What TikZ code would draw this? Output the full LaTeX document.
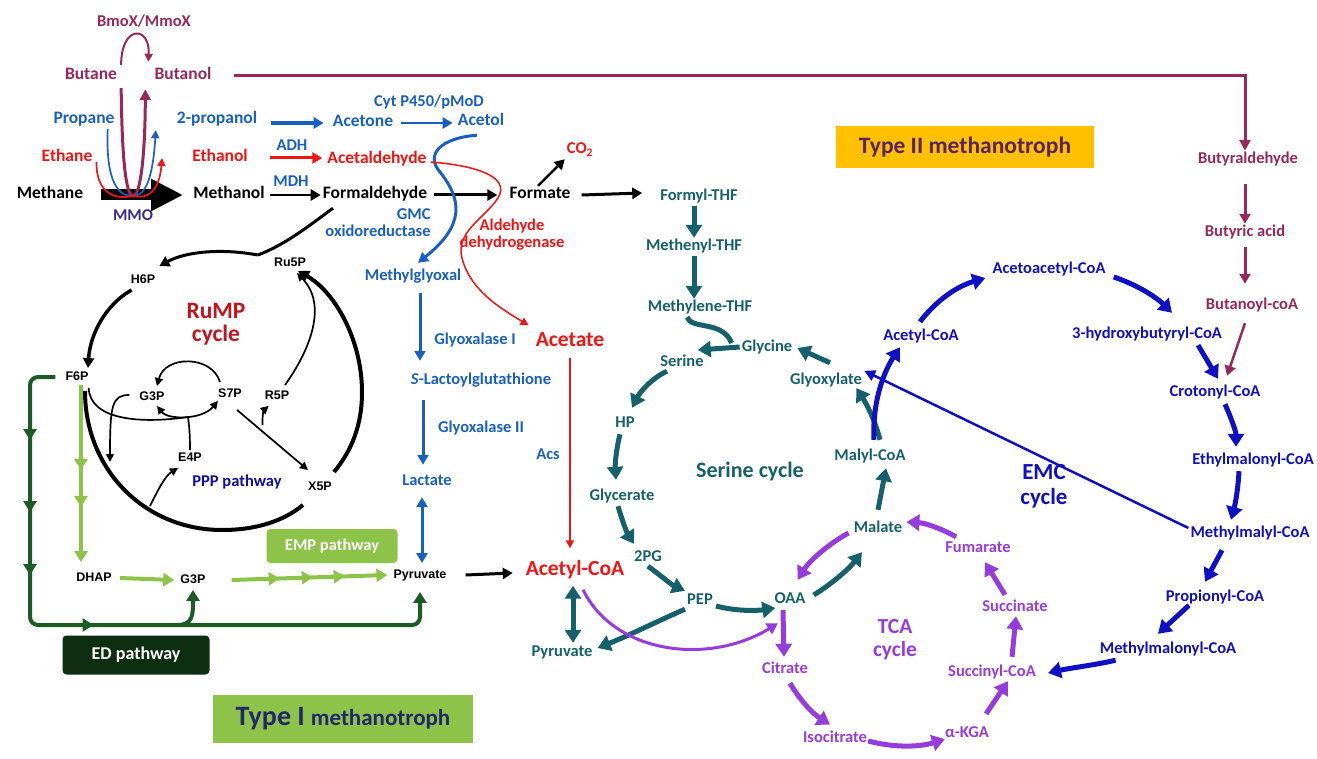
\documentclass[tikz,border=0pt]{standalone}
\usepackage{fontspec}
\setmainfont{Carlito}
\newfontfamily\arialf{Liberation Sans}
\usepackage{tikz}
\usetikzlibrary{arrows.meta,calc,decorations.markings}
\definecolor{bmocol}{RGB}{150,40,90}
\definecolor{cblue}{RGB}{25,95,195}
\definecolor{cred}{RGB}{240,20,20}
\definecolor{rumpred}{RGB}{195,20,30}
\definecolor{mmocol}{RGB}{55,45,140}
\definecolor{emcblue}{RGB}{15,15,195}
\definecolor{sercol}{RGB}{22,96,108}
\definecolor{tcacol}{RGB}{150,60,220}
\definecolor{empgreen}{RGB}{140,195,72}
\definecolor{edgreen}{RGB}{28,90,38}
\definecolor{edbox}{RGB}{14,46,18}
\definecolor{typeorange}{RGB}{255,192,0}
\definecolor{typeonecol}{RGB}{35,40,110}
\definecolor{typetwocol}{RGB}{90,35,100}
\newcommand{\gtip}{\arrow{Triangle[length=11pt,width=13pt]}}

\begin{document}
\begin{tikzpicture}[x=1pt, y=-1pt,
  lbl/.style={font=\fontsize{16.5}{18}\selectfont\bfseries, inner sep=2pt, text height=11pt, text depth=3pt},
  toplbl/.style={lbl, font=\fontsize{17.5}{19}\selectfont\bfseries},
  big/.style={font=\fontsize{21.5}{24}\selectfont\bfseries, inner sep=2pt, text height=15pt, text depth=4pt},
  sml/.style={font=\arialf\fontsize{12.5}{14}\selectfont\bfseries, inner sep=2pt, text height=9.5pt, text depth=2pt},
  box/.style={rounded corners=4pt, inner sep=0pt, align=center},
  fat/.style={line width=5pt, -{Triangle[length=13pt,width=16pt]}},
  mid/.style={line width=3pt, -{Triangle[length=10pt,width=11pt]}},
  thin/.style={line width=1.7pt, -{Triangle[length=8pt,width=8pt]}}]
\useasboundingbox (0,0) rectangle (1317,759);

\node[lbl,text=bmocol] (bmox) at (144,23) {BmoX/MmoX};
\node[toplbl,text=bmocol] (butane) at (91,76) {Butane};
\node[toplbl,text=bmocol] (butanol) at (183,76) {Butanol};
\node[toplbl,text=cblue] (propane) at (84,120) {Propane};
\node[toplbl,text=cblue] (propanol) at (217,120) {2-propanol};
\node[toplbl,text=cred] (ethane) at (67,158) {Ethane};
\node[toplbl,text=cred] (ethanol) at (220,158) {Ethanol};
\node[toplbl] (methane) at (50,195) {Methane};
\node[toplbl] (methanol) at (229,195) {Methanol};
\node[lbl,text=mmocol] (mmo) at (133,217) {MMO};
\node[lbl,text=cblue] (cyt) at (429,103) {Cyt P450/pMoD};
\node[toplbl,text=cblue] (acetone) at (363,123) {Acetone};
\node[toplbl,text=cblue] (acetol) at (481,122) {Acetol};
\node[lbl,text=cblue] (adh) at (292,147) {ADH};
\node[toplbl,text=cred] (acald) at (377,160) {Acetaldehyde};
\node[lbl,text=cblue] (mdh) at (291,183) {MDH};
\node[toplbl] (formald) at (375,195) {Formaldehyde};
\node[toplbl] (formate) at (540,195) {Formate};
\node[lbl,text=cred] (cotwo) at (580,150) {CO\textsubscript{2}};
\node[lbl,text=cblue,align=right,text height=,text depth=] (gmc) at (378,223) {GMC\\[-1pt]oxidoreductase};
\node[lbl,text=cred,align=center,text height=,text depth=] (aldeh) at (512,235) {Aldehyde\\[-1pt]dehydrogenase};
\node[lbl,text=cblue] (mglyox) at (413,277) {Methylglyoxal};
\node[lbl,text=cblue] (glyone) at (475,340) {Glyoxalase I};
\node[lbl,text=cblue] (slac) at (481,380) {\textit{S}-Lactoylglutathione};
\node[lbl,text=cblue] (glytwo) at (481,428) {Glyoxalase II};
\node[lbl,text=cblue] (lactate) at (427,481) {Lactate};
\node[sml] (pyrone) at (420,575) {Pyruvate};
\node[big,text=cred] (acetate) at (570,341) {Acetate};
\node[lbl,text=cblue] (acs) at (548,455) {Acs};
\node[big,text=cred] (acoa) at (575,570) {Acetyl-CoA};
\node[lbl,text=sercol] (pyrtwo) at (562,652) {Pyruvate};

\node[sml] (h6p) at (143,280) {H6P};
\node[sml] (ru5p) at (290,263) {Ru5P};
\node[font=\fontsize{23.5}{25}\selectfont\bfseries,text=rumpred,align=center] (rump) at (216,324) {RuMP\\[-2pt]cycle};
\node[sml] (f6p) at (77,377) {F6P};
\node[sml] (g3pa) at (152,397) {G3P};
\node[sml] (s7p) at (230,394) {S7P};
\node[sml] (r5p) at (277,396) {R5P};
\node[sml] (e4p) at (190,458) {E4P};
\node[lbl,text=emcblue!85!black] (ppp) at (237,482) {PPP pathway};
\node[sml] (x5p) at (320,487) {X5P};
\node[sml] (dhap) at (94,578) {DHAP};
\node[sml] (g3pb) at (193,580) {G3P};
\node[box,fill=empgreen,text=white,minimum width=131pt,minimum height=34pt,font=\fontsize{16.5}{18}\selectfont\bfseries] (emp) at (332,546) {EMP pathway};
\node[box,fill=edbox,text=white,minimum width=147pt,minimum height=39pt,font=\fontsize{18}{20}\selectfont\bfseries] (ed) at (136,655) {ED pathway};
\node[box,rounded corners=0pt,fill=empgreen,text=typeonecol,minimum width=260pt,minimum height=48pt,font=\bfseries] (typeone) at (343,719) {{\fontsize{28}{30}\selectfont Type I}\hspace{6pt}{\fontsize{23}{26}\selectfont methanotroph}};
\node[box,rounded corners=0pt,fill=typeorange,text=typetwocol,minimum width=258pt,minimum height=42pt,font=\fontsize{23.5}{26}\selectfont\bfseries] (typetwo) at (965,147) {Type II methanotroph};

\node[lbl,text=sercol] (formylthf) at (699,197) {Formyl-THF};
\node[lbl,text=sercol] (methenyl) at (694,247) {Methenyl-THF};
\node[lbl,text=sercol] (methylene) at (700,308) {Methylene-THF};
\node[lbl,text=sercol] (glycine) at (767,347) {Glycine};
\node[lbl,text=sercol] (serine) at (682,362) {Serine};
\node[lbl,text=sercol] (hp) at (625,423) {HP};
\node[lbl,text=sercol] (glycerate) at (622,496) {Glycerate};
\node[lbl,text=sercol] (twopg) at (648,557) {2PG};
\node[lbl,text=sercol] (pep) at (700,600) {PEP};
\node[lbl,text=sercol] (oaa) at (790,599) {OAA};
\node[lbl,text=sercol] (malate) at (878,528) {Malate};
\node[lbl,text=sercol] (malylcoa) at (870,456) {Malyl-CoA};
\node[lbl,text=sercol] (glyoxylate) at (826,380) {Glyoxylate};
\node[font=\fontsize{22}{24}\selectfont\bfseries,text=sercol] (sercyc) at (750,472) {Serine cycle};

\node[lbl,text=tcacol] (citrate) at (785,669) {Citrate};
\node[lbl,text=tcacol] (isocit) at (835,738) {Isocitrate};
\node[lbl,text=tcacol] (akga) at (967,733) {α-KGA};
\node[lbl,text=tcacol] (succoa) at (992,672) {Succinyl-CoA};
\node[lbl,text=tcacol] (succinate) at (1015,607) {Succinate};
\node[lbl,text=tcacol] (fumarate) at (978,548) {Fumarate};
\node[font=\fontsize{21.5}{24}\selectfont\bfseries,text=tcacol,align=center] (tcacyc) at (895,640) {TCA\\[-1pt]cycle};

\node[lbl,text=emcblue] (acetylb) at (921,336) {Acetyl-CoA};
\node[lbl,text=emcblue] (acetoac) at (1049,270) {Acetoacetyl-CoA};
\node[lbl,text=emcblue] (hydroxy) at (1147,334) {3-hydroxybutyryl-CoA};
\node[lbl,text=emcblue] (crotonyl) at (1215,392) {Crotonyl-CoA};
\node[lbl,text=emcblue] (ethylmal) at (1253,460) {Ethylmalonyl-CoA};
\node[lbl,text=emcblue] (methylmalyl) at (1250,533) {Methylmalyl-CoA};
\node[lbl,text=emcblue] (propionyl) at (1215,597) {Propionyl-CoA};
\node[lbl,text=emcblue] (methylmalon) at (1168,649) {Methylmalonyl-CoA};
\node[font=\fontsize{23}{25}\selectfont\bfseries,text=emcblue,align=center] (emccyc) at (1044,486) {EMC\\[0pt]cycle};

\node[lbl,text=bmocol] (butyrald) at (1248,160) {Butyraldehyde};
\node[lbl,text=bmocol] (butyric) at (1245,233) {Butyric acid};
\node[lbl,text=bmocol] (butanoyl) at (1252,305) {Butanoyl-coA};

\coordinate (mmoj) at ([shift={(0,-12)}]mmo.north);
\coordinate (tk) at (188,417);
\coordinate (g3pout) at (110,462);
\coordinate (ce) at (150,506);
\coordinate (edc) at (30,625);

\draw[line width=11pt,-{Triangle[length=32pt,width=30pt]}] ([xshift=16pt]methane.east) -- ([xshift=-8pt]methanol.west);
\draw[bmocol, line width=3pt] ([shift={(2,3)}]butane.south east) .. controls (122,160) and (126,196) .. (mmoj);
\draw[bmocol, line width=3pt, -{Triangle[length=11pt,width=11pt]}] (mmoj) .. controls (140,196) and (145,160) .. ([shift={(-7,4)}]butanol.south west);
\draw[cblue, thin] ([xshift=-9pt]propane.south east) .. controls (106,172) and (114,197) .. (mmoj) .. controls (150,197) and (154,160) .. ([shift={(-19,1)}]propanol.south west);
\draw[cred, thin] ([shift={(2,4)}]ethane.east) .. controls (96,190) and (112,201) .. (mmoj) .. controls (154,201) and (160,182) .. ([xshift=-28pt]ethanol.west);
\draw[bmocol, thin, line width=2pt] ([shift={(2,-2)}]butane.north east) .. controls (121,25) and (150,25) .. ([shift={(-4,-5)}]butanol.north west);
\draw[bmocol, line width=3pt, -{Triangle[length=11pt,width=11pt]}] ([xshift=20pt]butanol.east) -| ([xshift=-3pt]butyrald.north);
\draw[bmocol, mid, shorten <=15pt] (butyric.north |- butyrald.south) -- (butyric.north);
\draw[bmocol, mid, shorten <=5pt, shorten >=12pt] (butyric.south) -- (butyric.south |- butanoyl.north);
\draw[bmocol, mid, line width=2.5pt] ([shift={(-7,9)}]butanoyl.south) -- ([shift={(12,-7)}]crotonyl.north);

\draw[cblue, mid, line width=3.5pt] ([shift={(12,3)}]propanol.east) -- ([xshift=-7pt]acetone.west);
\draw[cblue, mid, line width=2.5pt] ([xshift=6pt]acetone.east) -- ($(acetone.east -| acetol.west)+(-3,0)$);
\draw[cred, mid] ([xshift=20pt]ethanol.east) -- ($(acald.west |- ethanol.east)+(-3,0)$);
\draw[mid, line width=2.5pt] ([xshift=3pt]methanol.east) -- (formald.west);
\draw[mid] ([xshift=5pt]formald.east) -- ([xshift=-10pt]formate.west);
\draw[mid, line width=2.5pt] ([xshift=-2pt]formate.north) -- (cotwo.south west);
\draw[mid] ([xshift=9pt]formate.east) -- ($(formylthf.west |- formate.east)+(-16,-2)$);
\draw[cblue, mid] ([shift={(-4,4)}]acetol.south) .. controls (440,138) and (425,155) .. (440,172) .. controls (462,200) and (465,225) .. ([shift={(5,-5)}]mglyox.north);
\draw[cred, thin, line width=1.5pt] ([shift={(2,2)}]acald.east) .. controls (470,165) and (512,175) .. (498,198) .. controls (485,218) and (455,232) .. (462,258) .. controls (470,290) and (500,308) .. ([shift={(-5,-4)}]acetate.north west);
\draw[cred, thin, line width=1.5pt, shorten <=5pt, shorten >=10pt] (acetate.south) -- (acetate.south |- acoa.north);
\draw[cblue, mid, shorten >=10pt] ([shift={(7,7)}]mglyox.south) -- ($(mglyox.south |- slac.north)+(7,0)$);
\draw[cblue, mid, shorten <=11pt, shorten >=7pt] ($(lactate.north |- slac.south)+(-4,0)$) -- ([xshift=-4pt]lactate.north);
\draw[cblue, line width=3pt, {Triangle[length=10pt,width=11pt]}-{Triangle[length=10pt,width=11pt]}, shorten <=7pt, shorten >=4pt] ($(pyrone.north |- lactate.south)+(2,0)$) -- ([xshift=2pt]pyrone.north);
\draw[mid] ([xshift=17pt]pyrone.east) -- ($(acoa.west |- pyrone.east)+(-11,-2)$);

\draw[line width=3pt] ([shift={(-42,4)}]formald.south) .. controls (310,225) and (285,245) .. ([shift={(-14,-8)}]ru5p.west);
\draw[mid] ([shift={(-14,-8)}]ru5p.west) .. controls (220,248) and (185,252) .. ([shift={(2,-6)}]h6p.north east);
\draw[mid, line width=3.5pt] ([shift={(3,2)}]h6p.south west) .. controls (105,305) and (90,335) .. ([shift={(11,-1)}]f6p.north);
\draw[line width=4pt] ([shift={(8,6)}]f6p.south) .. controls (85,470) and (145,530) .. (222,530) .. controls (258,530) and (285,520) .. ([shift={(-3,10)}]x5p.south west);
\draw[line width=4pt, -{Triangle[length=11pt,width=12pt]}] ([shift={(0,-7)}]x5p.north east) .. controls (352,450) and (362,425) .. (362,392) .. controls (362,340) and (335,292) .. ([shift={(8,0)}]ru5p.south);
\draw[thin] ([shift={(8,-3)}]r5p.north) .. controls (310,350) and (328,305) .. ([shift={(7,2)}]ru5p.south);
\draw[thin] ([shift={(4,-4)}]s7p.north west) .. controls (212,355) and (165,355) .. ([shift={(5,-3)}]g3pa.north);
\draw[line width=1.7pt, {Triangle[length=8pt,width=8pt]}-{Triangle[length=8pt,width=8pt]}] ([shift={(5,1)}]g3pa.south) .. controls (168,420) and (202,420) .. ([shift={(2,-1)}]s7p.south west);
\draw[line width=1.7pt] ([shift={(-2,3)}]f6p.south east) .. controls (90,420) and (140,424) .. (tk);
\draw[line width=1.7pt] (e4p.north) .. controls (190,432) and (189,425) .. (tk);
\draw[thin] ([shift={(-8,-2)}]g3pa.west) .. controls (112,395) and (110,405) .. (g3pout);
\draw[thin] ([shift={(-7,8)}]s7p.south east) -- ([shift={(2,-9)}]x5p.north west);
\draw[thin] ($(s7p.south east)!0.3!(x5p.north west)$) .. controls (262,415) and (264,410) .. ([shift={(6,2)}]r5p.south west);
\draw[thin] (ce) .. controls (158,490) and (165,476) .. ([shift={(2,2)}]e4p.south west);

\draw[edgreen, line width=4pt, rounded corners=8pt, -{Triangle[length=11pt,width=13pt]},
  postaction={decorate, decoration={markings, mark=at position 85pt with {\gtip}, mark=at position 157pt with {\gtip}, mark=at position 220pt with {\gtip}, mark=at position 330pt with {\gtip}}}]
  ([xshift=-8pt]f6p.west) -| (edc) -| ([shift={(0,9)}]pyrone.south);
\draw[edgreen, line width=4pt, -{Triangle[length=11pt,width=13pt]}] ($(g3pb.south |- edc)+(-16,0)$) .. controls (193,625) and (193,615) .. ([shift={(0,2)}]g3pb.south);
\draw[empgreen, line width=4pt, -{Triangle[length=11pt,width=13pt]},
  postaction={decorate, decoration={markings, mark=at position 85pt with {\gtip}, mark=at position 122pt with {\gtip}}}]
  ($(f6p.south)+(4,0)$) -- ($(f6p.south |- dhap.north)+(4,-8)$);
\draw[empgreen, line width=4pt, -{Triangle[length=11pt,width=13pt]}] ([xshift=6pt]dhap.east) -- ([xshift=-4pt]g3pb.west);
\draw[empgreen, line width=4pt, -{Triangle[length=11pt,width=13pt]},
  postaction={decorate, decoration={markings, mark=at position 48pt with {\gtip}, mark=at position 81pt with {\gtip}, mark=at position 113pt with {\gtip}}}]
  ([xshift=24pt]g3pb.east) -- ([xshift=-4pt]pyrone.west);

\draw[sercol, fat] (formylthf.south -| methenyl.north) -- (methenyl.north);
\draw[sercol, fat] (methenyl.south) -- (methenyl.south |- methylene.north);
\draw[sercol, line width=5pt] ([xshift=-13pt]methylene.south) .. controls (692,330) and (722,320) .. ([shift={(-8,-4)}]glycine.west);
\draw[sercol, fat] (glycine.west) -- ([shift={(-8,-12)}]serine.east);
\draw[sercol, fat] ([shift={(4,-8)}]glyoxylate.north) -- ([shift={(3,1)}]glycine.east);
\draw[sercol, fat] ([xshift=-15pt]serine.south) .. controls (652,378) and (640,392) .. ([shift={(7,-6)}]hp.north);
\draw[sercol, fat] ([shift={(-5,2)}]hp.south) .. controls (616,450) and (615,465) .. ([shift={(-6,-7)}]glycerate.north);
\draw[sercol, fat] ([shift={(-4,1)}]glycerate.south) .. controls (622,520) and (627,533) .. ([shift={(-14,-4)}]twopg.north);
\draw[sercol, fat] (twopg.south) .. controls (660,575) and (672,585) .. (pep.north west);
\draw[sercol, fat] ([shift={(1,6)}]pep.east) .. controls (735,611) and (755,611) .. ([shift={(3,9)}]oaa.west);
\draw[sercol, fat] (pep.south west) .. controls (660,620) and (630,635) .. ([shift={(3,-4)}]pyrtwo.east);
\draw[sercol, fat] ([shift={(6,-4)}]oaa.east) .. controls (830,585) and (848,570) .. ([shift={(-16,15)}]malate.south);
\draw[sercol, fat] ([shift={(0,-9)}]malate.north) -- ([shift={(16,3)}]malylcoa.south);
\draw[sercol, fat] ([shift={(10,-7)}]malylcoa.north) .. controls (875,420) and (866,403) .. ([shift={(-8,8)}]glyoxylate.east);
\draw[sercol, line width=5pt, {Triangle[length=13pt,width=16pt]}-{Triangle[length=13pt,width=16pt]}] ([shift={(-2,4)}]acoa.south) -- ([xshift=11pt]pyrtwo.north);

\draw[tcacol, line width=3pt, -{Triangle[length=11pt,width=12pt]}] ([shift={(8,8)}]acoa.south) .. controls (615,655) and (710,665) .. ([shift={(-12,15)}]oaa.south);
\draw[tcacol, fat] ([shift={(-7,2)}]oaa.south) -- ([shift={(-1,-3)}]citrate.north);
\draw[tcacol, fat] ([shift={(5,5)}]citrate.south) .. controls (800,700) and (812,713) .. ([shift={(-5,-4)}]isocit.north);
\draw[tcacol, fat] ([shift={(-1,3)}]isocit.east) .. controls (895,748) and (920,747) .. ([shift={(2,6)}]akga.west);
\draw[tcacol, fat] ([shift={(-5,-10)}]akga.north east) -- ([xshift=16pt]succoa.south);
\draw[tcacol, fat] ([shift={(20,-6)}]succoa.north) -- ([xshift=1pt]succinate.south);
\draw[tcacol, fat] ([shift={(-10,-3)}]succinate.north) -- ([shift={(7,5)}]fumarate.south);
\draw[tcacol, fat] ([shift={(13,-2)}]fumarate.north west) .. controls (940,528) and (925,523) .. ([shift={(2,-6)}]malate.east);
\draw[tcacol, fat] ([shift={(-3,5)}]malate.west) .. controls (830,543) and (810,560) .. ([shift={(-10,-10)}]oaa.north east);

\draw[emcblue, fat] ([shift={(4,-7)}]malylcoa.north) .. controls (872,400) and (885,370) .. ([shift={(-21,2)}]acetylb.south);
\draw[emcblue, fat] ([shift={(-1,-5)}]acetylb.north) .. controls (935,302) and (955,287) .. ([shift={(-5,8)}]acetoac.west);
\draw[emcblue, fat] ([shift={(6,7)}]acetoac.east) .. controls (1135,284) and (1155,296) .. ([shift={(25,-12)}]hydroxy.north);
\draw[emcblue, fat] ([shift={(-26,2)}]hydroxy.south east) -- ([shift={(3,-4)}]crotonyl.north);
\draw[emcblue, fat] ([shift={(10,3)}]crotonyl.south) .. controls (1232,420) and (1236,432) .. ([shift={(-17,-4)}]ethylmal.north);
\draw[emcblue, fat] ([shift={(-14,2)}]ethylmal.south) .. controls (1238,490) and (1235,505) .. ([shift={(-19,-4)}]methylmalyl.north);
\draw[emcblue, fat] ([shift={(-28,8)}]methylmalyl.south) -- ([shift={(-10,-6)}]propionyl.north);
\draw[emcblue, fat] ([shift={(-26,-1)}]propionyl.south) -- ([shift={(-10,-6)}]methylmalon.north);
\draw[emcblue, fat] ([shift={(18,2)}]methylmalon.south west) .. controls (1095,665) and (1070,668) .. ([shift={(10,1)}]succoa.east);
\draw[emcblue, line width=2.5pt, -{Triangle[length=11pt,width=11pt]}] ([shift={(0,-5)}]methylmalyl.west) -- (glyoxylate.north east);
\end{tikzpicture}
\end{document}
